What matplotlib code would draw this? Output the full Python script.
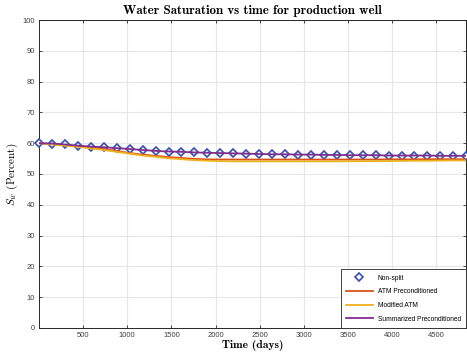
import matplotlib
matplotlib.use("Agg")
import matplotlib.pyplot as plt

plt.rcParams['mathtext.fontset'] = 'cm'
plt.rcParams['font.family'] = ['Liberation Sans', 'DejaVu Sans']

# time in days
t = [0, 147, 293, 440, 587, 733, 880, 1027, 1173, 1320, 1467, 1613, 1760, 1907,
     2053, 2200, 2347, 2493, 2640, 2787, 2933, 3080, 3227, 3373, 3520, 3667,
     3813, 3960, 4107, 4253, 4400, 4547, 4693, 4840]

# water saturation (percent) for each solver
non_split = [60.0, 59.9, 59.6, 59.2, 58.9, 58.7, 58.4, 58.1, 57.8, 57.5, 57.3, 57.2,
             57.0, 56.9, 56.8, 56.7, 56.6, 56.5, 56.4, 56.4, 56.3, 56.3, 56.2, 56.2,
             56.1, 56.1, 56.1, 56.0, 56.0, 56.0, 56.0, 55.9, 55.9, 55.9]
atm_precond = [60.0, 59.7, 59.4, 59.0, 58.6, 58.1, 57.5, 56.8, 56.3, 55.9, 55.5, 55.2,
               54.9, 54.75, 54.7, 54.7, 54.7, 54.7, 54.7, 54.7, 54.7, 54.7, 54.7, 54.7,
               54.7, 54.7, 54.7, 54.75, 54.75, 54.75, 54.8, 54.8, 54.8, 54.8]
modified_atm = [60.0, 59.6, 59.2, 58.8, 58.3, 57.8, 57.2, 56.6, 56.0, 55.6, 55.1, 54.8,
                54.5, 54.3, 54.2, 54.1, 54.1, 54.1, 54.1, 54.1, 54.1, 54.1, 54.1, 54.1,
                54.15, 54.15, 54.2, 54.2, 54.25, 54.3, 54.3, 54.35, 54.4, 54.4]
summarized = [60.0, 59.9, 59.6, 59.2, 58.9, 58.7, 58.4, 58.1, 57.8, 57.5, 57.3, 57.2,
              57.0, 56.9, 56.8, 56.7, 56.6, 56.5, 56.4, 56.4, 56.3, 56.3, 56.2, 56.2,
              56.1, 56.1, 56.1, 56.0, 56.0, 56.0, 56.0, 55.9, 55.9, 55.9]

xticks = [500, 1000, 1500, 2000, 2500, 3000, 3500, 4000, 4500]
yticks = [0, 10, 20, 30, 40, 50, 60, 70, 80, 90, 100]

fig = plt.figure(figsize=(4.67, 3.58), dpi=100)
ax = fig.add_axes([0.0835, 0.084, 0.915, 0.86])

ax.plot(t, non_split, linestyle='none', marker='D', markersize=4.0,
        markerfacecolor='white', markeredgecolor='#3550b0', markeredgewidth=1.2,
        label='Non-split', clip_on=False, zorder=3)
ax.plot(t, atm_precond, color='#d95319', lw=1.3, label='ATM Preconditioned', zorder=4)
ax.plot(t, modified_atm, color='#edb120', lw=1.3, label='Modified ATM', zorder=4)
ax.plot(t, summarized, color='#7e2f8e', lw=1.3, label='Summarized Preconditioned', zorder=5)

ax.set_xlim(0, 4840)
ax.set_ylim(0, 100)
ax.set_xticks(xticks)
ax.set_yticks(yticks)
ax.grid(True, color='#e6e6e6', lw=0.8)
ax.set_axisbelow(True)
ax.tick_params(direction='in', length=2.5, width=0.6, labelsize=5.5,
               labelcolor='#404040', color='#262626', top=True, right=True, pad=3)
for s in ax.spines.values():
    s.set_color('#262626')
    s.set_linewidth(0.7)

ax.set_title('Water Saturation vs time for production well', family='cmb10',
             fontsize=9.3, pad=4)
ax.set_xlabel('Time (days)', family='cmb10', fontsize=8.3, labelpad=1)
ax.set_ylabel(r'$S_w$ (Percent)', family='cmr10', fontsize=8, labelpad=2)

leg = ax.legend(loc='lower right', fontsize=4.8, frameon=True, fancybox=False,
                framealpha=1, edgecolor='#262626', borderaxespad=0,
                handlelength=4.0, labelspacing=1.0, borderpad=0.8)
leg.get_frame().set_linewidth(0.6)

fig.savefig('out.png', dpi=100)
